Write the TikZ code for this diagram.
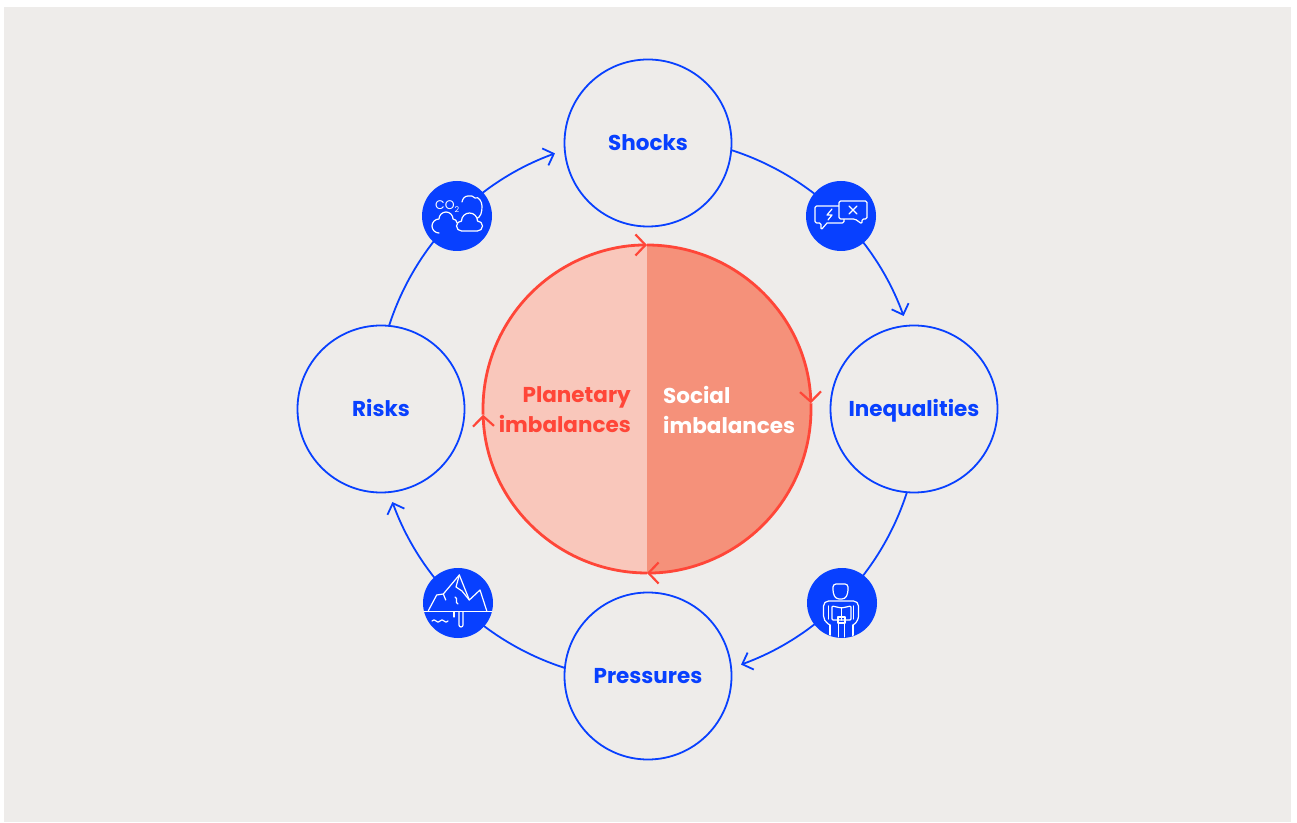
\documentclass[tikz,border=0pt]{standalone}
\usepackage{fontspec}
\setmainfont{Poppins}
\usetikzlibrary{arrows.meta,calc}
\definecolor{bg}{RGB}{238,236,234}
\definecolor{cblue}{RGB}{8,64,255}
\definecolor{cred}{RGB}{255,70,56}
\definecolor{lightfill}{RGB}{249,199,187}
\definecolor{darkfill}{RGB}{245,145,122}
\begin{document}
\begin{tikzpicture}[x=1pt,y=1pt,
  stage/.style={circle, draw=cblue, line width=1.8pt, fill=bg, minimum size=167pt, inner sep=0pt,
    text height=15.5pt, text depth=0pt,
    font=\bfseries\fontsize{21.5}{26}\selectfont, text=cblue},
  icon/.style={circle, fill=cblue, minimum size=70pt, inner sep=0pt},
  conn/.style={draw=cblue, line width=1.8pt, -{Straight Barb[length=9pt,width=18pt]}},
  redarc/.style={draw=cred, line width=2.8pt, -{Straight Barb[length=10pt,width=21pt,line width=2.2pt]}},
  coretext/.style={font=\bfseries\fontsize{21.5}{30}\selectfont, inner sep=0pt},
  iconline/.style={draw=white, line width=1.2pt, line cap=round, line join=round}
]
\useasboundingbox (0,0) rectangle (1297,822);
\fill[white] (0,0) rectangle (1297,822);
\fill[bg] (4,0) rectangle (1291,815);

\coordinate (hub) at (648,413);

% central circle
\node[circle, minimum size=328pt, inner sep=0pt] (core) at (647,413) {};
\fill[lightfill] (core.north) arc[start angle=90, end angle=270, radius=164] -- cycle;
\fill[darkfill] (core.south) arc[start angle=-90, end angle=90, radius=164] -- cycle;
\draw[redarc] ($(core)+(182:164)$) arc[start angle=182, end angle=90, radius=164];
\draw[redarc] ($(core)+(90:164)$) arc[start angle=90, end angle=2, radius=164];
\draw[redarc] ($(core)+(2:164)$) arc[start angle=2, end angle=-90, radius=164];
\draw[redarc] ($(core)+(-90:164)$) arc[start angle=-90, end angle=-178, radius=164];
\node[coretext, text=cred, align=right, anchor=east] (planet) at (631,412.5) {Planetary\\imbalances};
\node[coretext, text=white, align=left, anchor=west] (social) at (663,412.5) {Social\\imbalances};

% connectors
\draw[conn] ($(hub)+(162.4:272)$) arc[start angle=162.4, end angle=110, radius=272];
\draw[conn] ($(hub)+(72.4:272)$) arc[start angle=72.4, end angle=20, radius=272];
\draw[conn] ($(hub)+(-17.6:272)$) arc[start angle=-17.6, end angle=-70, radius=272];
\draw[conn] ($(hub)+(-107.6:272)$) arc[start angle=-107.6, end angle=-160, radius=272];

% stages
\node[stage] (shocks) at (648,679) {Shocks};
\node[stage] (ineq) at (914,413) {Inequalities};
\node[stage] (press) at (648,146) {Pressures};
\node[stage] (risks) at (381,413) {Risks};

% icon: CO2 clouds
\node[icon] (co2) at (457,606) {};
\begin{scope}[shift={(co2)}]
  \node[anchor=base west, inner sep=0pt, text=white, font=\fontsize{12.5}{12.5}\selectfont] (co2txt) at (-22,6)
    {CO\raisebox{-2.5pt}{\fontsize{8}{8}\selectfont 2}};
  \draw[iconline] (-18,-17) arc[start angle=270, end angle=90, radius=7]
     arc[start angle=180, end angle=0, radius=7] arc[start angle=90, end angle=0, radius=4];
  \draw[iconline] (5,14) to[out=80,in=180] (11,20) to[out=0,in=120] (18,18)
     to[out=30,in=90] (25,10) to[out=-90,in=20] (19,-3);
  \draw[iconline, fill=cblue] (4.5,-15) arc[start angle=270, end angle=90, radius=5]
     arc[start angle=180, end angle=0, radius=8] arc[start angle=90, end angle=-90, radius=5] -- cycle;
\end{scope}

% icon: speech bubbles
\node[icon] (speech) at (841,606) {};
\begin{scope}[shift={(speech)}]
  \draw[iconline, rounded corners=1.5pt] (-14,-7) -- (3,-7) -- (3,10) -- (-26,10) -- (-26,-7) -- (-20,-7) -- (-20,-14) -- (-14,-7);
  \draw[iconline] (-9,7) -- (-14,1) -- (-9,1) -- (-13,-4);
  \draw[iconline, fill=cblue, rounded corners=1.5pt] (-2,-3) -- (14,-3) -- (21,-8) -- (21,-3) -- (26,-3) -- (26,15) -- (-2,15) -- cycle;
  \draw[iconline] (8,2) -- (16,10) (8,10) -- (16,2);
\end{scope}

% icon: person reading
\node[icon] (person) at (842,219) {};
\begin{scope}[shift={(person)}]
  \clip (0,0) circle[radius=34.5];
  \draw[iconline, rounded corners=3pt] (-9,10) -- (-9,19) -- (6,19) -- (6,10) -- (3,4) -- (-6,4) -- cycle;
  \draw[iconline, rounded corners=5pt] (-12,-22) -- (-18.5,-18) -- (-18.5,2) -- (16.5,2) -- (16.5,-18) -- (11,-22);
  \draw[iconline] (-13.5,-3) -- (-13.5,-16) (11.5,-3) -- (11.5,-16);
  \draw[iconline, rounded corners=1pt] (-0.5,-17) -- (-10,-17) -- (-10,-3) -- (-0.5,-5) -- (9,-3) -- (9,-17) -- cycle;
  \draw[iconline] (-0.5,-5) -- (-0.5,-17);
  \draw[iconline] (-4,-14) rectangle (3,-20);
  \draw[iconline] (-12,-22) -- (-12,-40) (11,-22) -- (11,-40) (-3.5,-20) -- (-3.5,-40) (2.5,-20) -- (2.5,-40);
\end{scope}

% icon: iceberg
\node[icon] (ice) at (458,219) {};
\begin{scope}[shift={(ice)}]
  \draw[iconline] (-33.8,-8.7) -- (33.8,-8.7);
  \draw[iconline] (-29.7,-7.7) -- (-21.3,8) -- (-14.7,9) -- (1.3,28) -- (11.3,3) -- (22,13) -- (28.7,-7.7);
  \draw[iconline] (-14.7,9) -- (-12.3,3);
  \draw[iconline] (1.3,28) -- (-2,16) -- (4,12) -- (11.3,3);
  \draw[iconline] (-3,6) .. controls (1,4) and (-4,1) .. (0,-1);
  \draw[iconline] (1,-8.7) -- (1,-22) arc[start angle=180, end angle=360, radius=2] -- (5,-8.7);
  \draw[iconline] (-4,-8.7) -- (-4,-14);
  \draw[iconline] (-26,-18) sin (-24,-16.8) cos (-22,-18) sin (-20,-19.2) cos (-18,-18)
     sin (-16,-16.8) cos (-14,-18) sin (-12,-19.2) cos (-10,-18);
\end{scope}
\end{tikzpicture}
\end{document}
